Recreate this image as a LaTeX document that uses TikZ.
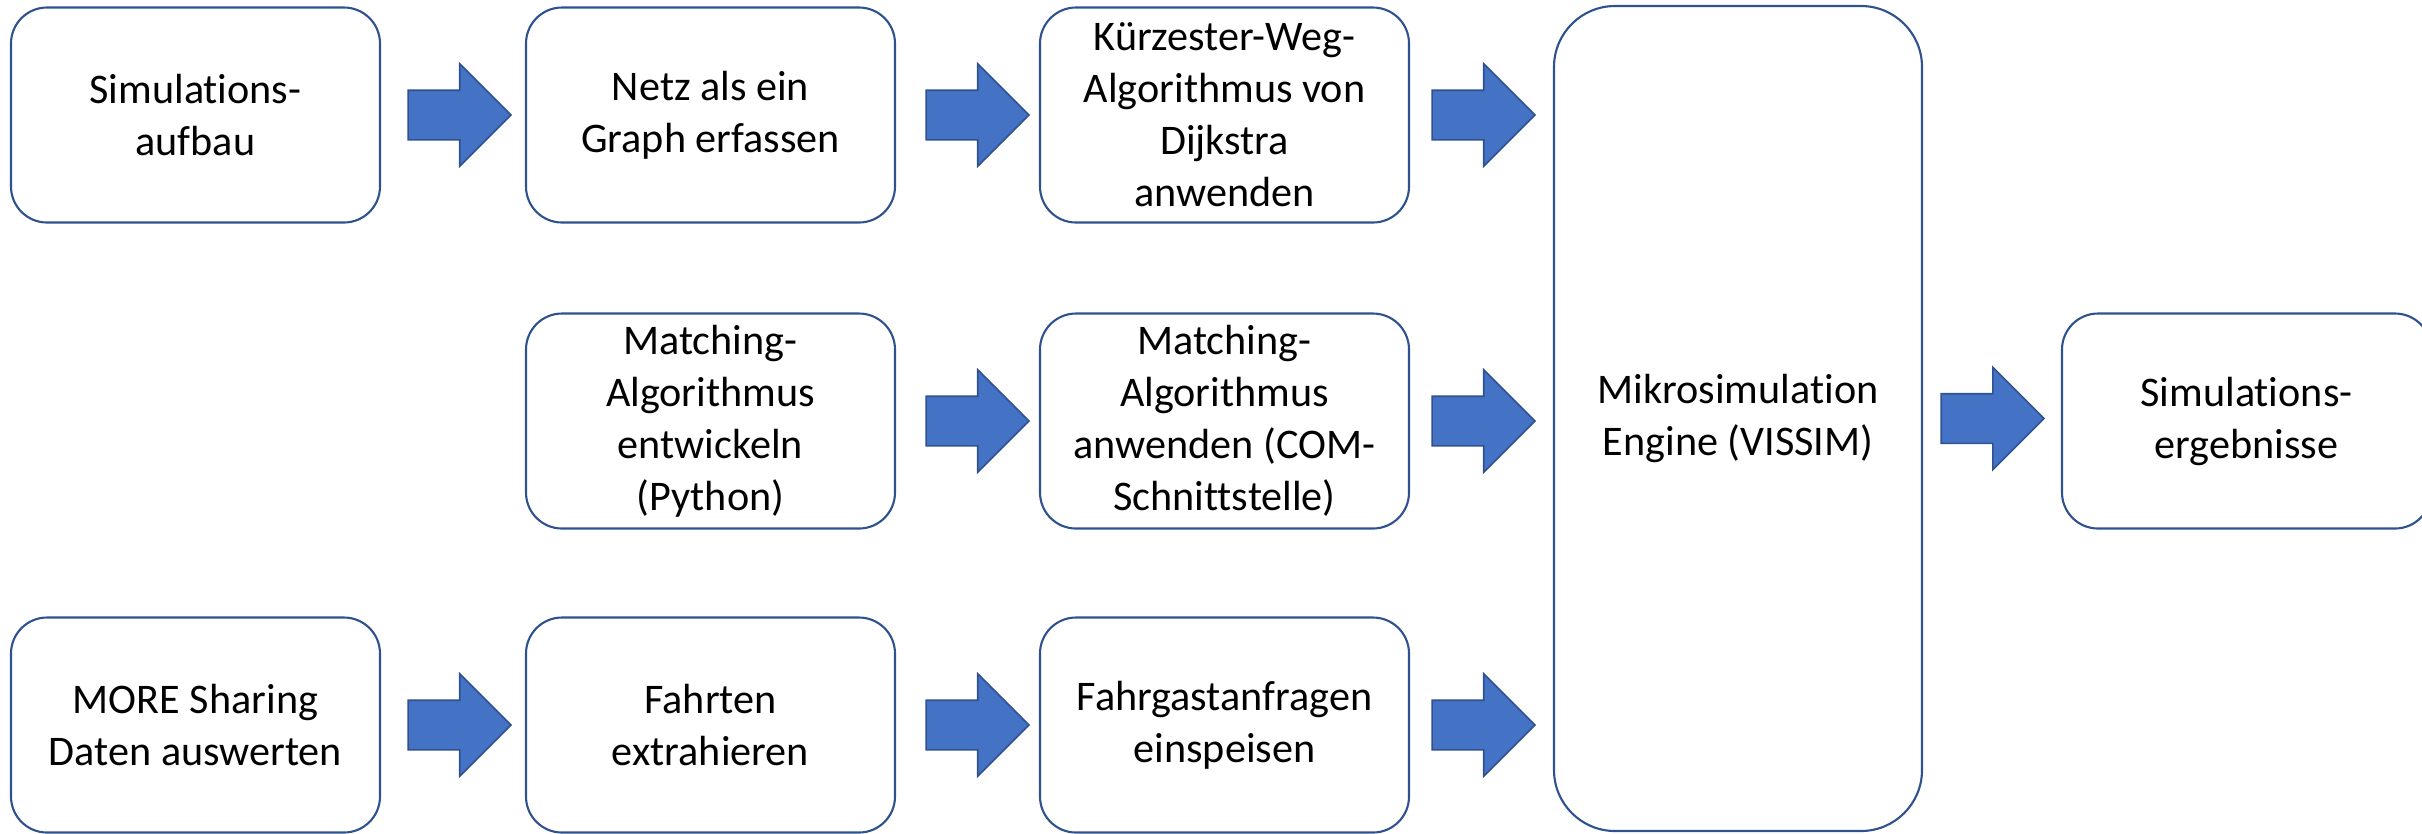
\documentclass[tikz,border=0pt]{standalone}
\usepackage{fontspec}
\setmainfont{Carlito}[Ligatures=CommonOff]
\usepackage{tikz}
\usetikzlibrary{positioning,shapes.arrows,calc}

\definecolor{boxline}{HTML}{2F528F}
\definecolor{arrowfill}{HTML}{4472C4}

\tikzset{
  stepbox/.style={draw=boxline, line width=0.6pt, fill=white, rounded corners=0.36cm,
    minimum width=3.69cm, minimum height=2.15cm, align=center, inner sep=2pt},
  enginebox/.style={stepbox, rounded corners=0.61cm, minimum width=3.68cm, minimum height=8.25cm},
  blockarr/.style={single arrow, draw=boxline, line width=0.45pt, fill=arrowfill,
    minimum height=1.03cm, minimum width=1.01cm, inner xsep=0pt, inner ysep=0.24cm,
    single arrow head extend=0.265cm, single arrow tip angle=90,
    text height=0pt, text depth=0pt, outer sep=0pt}
}

\begin{document}
\begin{tikzpicture}[every node/.style={font=\fontsize{12}{14.8}\selectfont}]
  \useasboundingbox (0,0) rectangle (24.22,-8.33);

  % Top row
  \node[stepbox] (aufbau) at (1.955,-1.15) {Simulations-\\aufbau};
  \node[stepbox] (graph) at (7.105,-1.15) {Netz als ein\\Graph erfassen};
  \node[stepbox] (dijkstra) at (12.245,-1.15) {Kürzester-Weg-\\Algorithmus von\\Dijkstra\\anwenden};

  % Middle row
  \node[stepbox] (matchdev) at (7.105,-4.21) {Matching-\\Algorithmus\\entwickeln\\(Python)};
  \node[stepbox] (matchcom) at (12.245,-4.21) {Matching-\\Algorithmus\\anwenden (COM-\\Schnittstelle)};

  % Bottom row
  \node[stepbox] (moredata) at (1.955,-7.25) {MORE Sharing\\Daten auswerten};
  \node[stepbox] (fahrten) at (7.105,-7.25) {Fahrten\\extrahieren};
  \node[stepbox] (anfragen) at (12.245,-7.25) {Fahrgastanfragen\\einspeisen};

  % Engine and results
  \node[enginebox] (vissim) at (17.38,-4.185) {Mikrosimulation\\Engine (VISSIM)};
  \node[stepbox] (results) at (22.465,-4.21) {Simulations-\\ergebnisse};

  % Block arrows
  \node[blockarr, right=0.27cm of aufbau] (a1) {};
  \node[blockarr, right=0.30cm of graph] (a2) {};
  \node[blockarr, right=0.22cm of dijkstra] (a3) {};
  \node[blockarr, right=0.30cm of matchdev] (a4) {};
  \node[blockarr, right=0.22cm of matchcom] (a5) {};
  \node[blockarr, right=0.27cm of moredata] (a6) {};
  \node[blockarr, right=0.30cm of fahrten] (a7) {};
  \node[blockarr, right=0.22cm of anfragen] (a8) {};
  \node[blockarr, right=0.18cm of vissim] (a9) {};

\end{tikzpicture}
\end{document}
